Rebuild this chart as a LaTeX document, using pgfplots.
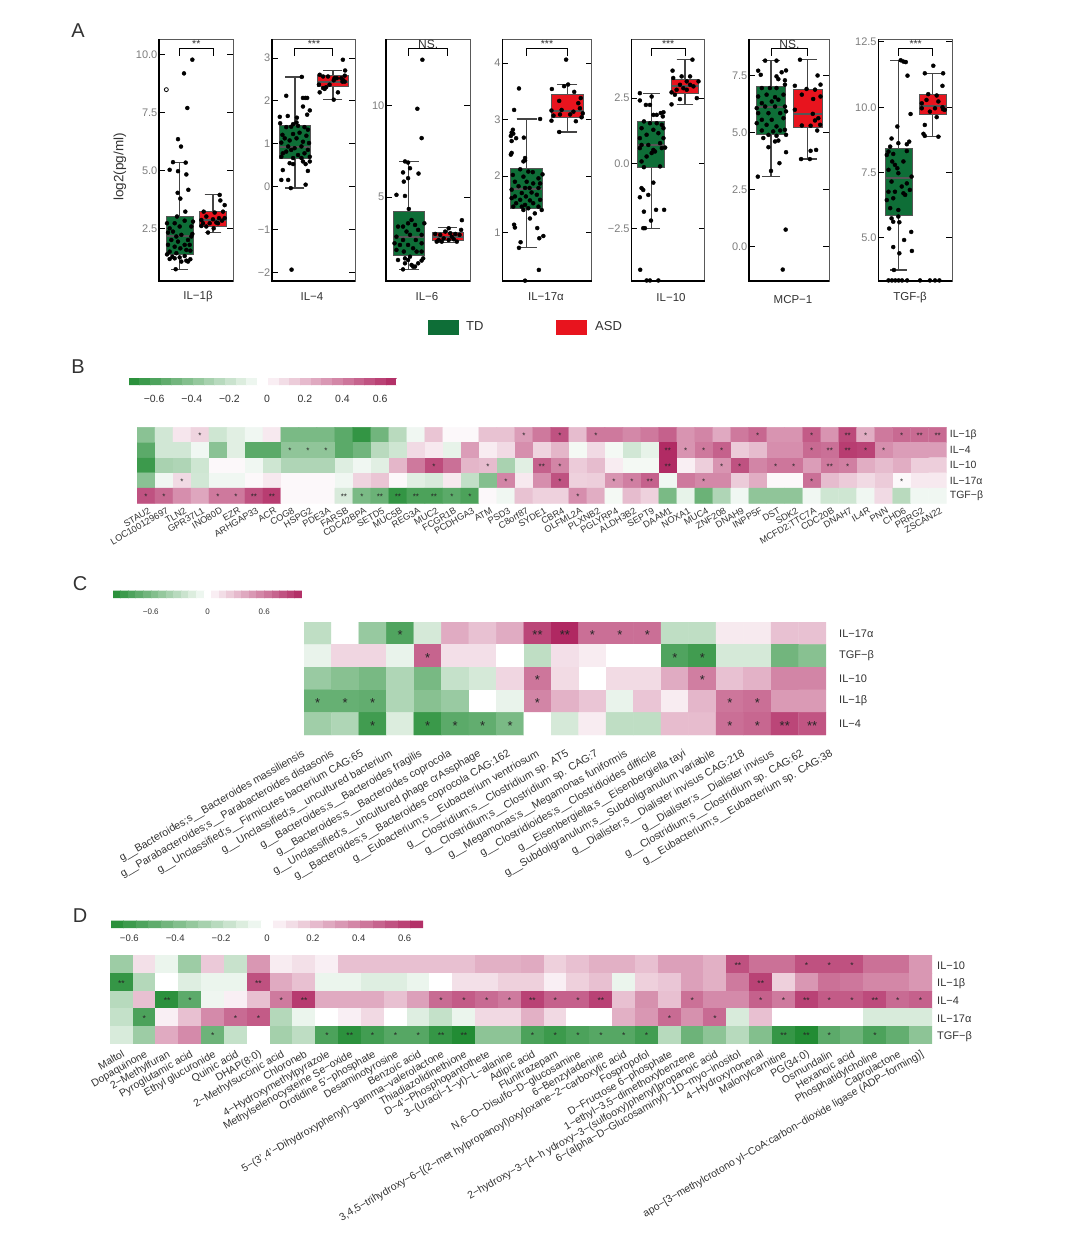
\documentclass[border=0pt]{standalone}
\usepackage{fontspec}
\setmainfont{Liberation Sans}
\usepackage{pgfplots}
\pgfplotsset{compat=1.18}
\usepgfplotslibrary{statistics}

\definecolor{tdgreen}{RGB}{14,110,55}
\definecolor{asdred}{RGB}{232,20,30}
\definecolor{boxdraw}{RGB}{85,85,85}
\definecolor{ticktext}{RGB}{125,125,125}
\definecolor{labeltext}{RGB}{50,50,50}

\newcommand\fs[1]{\fontsize{#1}{#1}\selectfont}

% bracket, stars and the heavier left/bottom frame of one box panel
\newcommand\finish[1]{%
  \draw[black,line width=1.3pt] (rel axis cs:0,1)--(rel axis cs:0,0)--(rel axis cs:1,0);
  \draw[black,line width=1pt] ({axis cs:1,0}|-{rel axis cs:0,.931})--({axis cs:1,0}|-{rel axis cs:0,.96})
    --({axis cs:2,0}|-{rel axis cs:0,.96})--({axis cs:2,0}|-{rel axis cs:0,.931});
  \node[font=\fs{10.5},inner sep=0,text=labeltext] at ({axis cs:1.5,0}|-{rel axis cs:0,.979}) {#1};
}
\newcommand\bx[7]{\addplot[boxplot prepared={draw direction=y,draw position=#1,lower whisker=#2,lower quartile=#3,median=#4,upper quartile=#5,upper whisker=#6},fill=#7,draw=boxdraw] coordinates {};}

\pgfplotsset{
  colormap={gp}{rgb255=(34,140,52) rgb255=(255,255,255) rgb255=(176,40,98)},
  boxplot/box extend=.8,
  boxplot/whisker extend=.5,
  boxplot/every box/.style={draw=boxdraw,line width=1pt},
  boxplot/every whisker/.style={draw=boxdraw!80!black,line width=1.2pt},
  boxplot/every median/.style={draw=boxdraw,line width=2pt},
  panel/.style={scale only axis,anchor=south west,height=242pt,
    xtick=\empty,axis line style={draw=gray!70!black,line width=.7pt},
    tick style={black,line width=1pt},major tick length=6pt,
    yticklabel style={font=\fs{11},text=ticktext,inner sep=1.5pt}},
  sigbr/.style={after end axis/.code={\finish{#1}}},
  pts/.style={only marks,mark=*,mark size=2pt,black,mark options={fill=black,draw=black}},
  heat/.style={scale only axis,anchor=south west,colormap name=gp,
    y dir=reverse,ymin=-.5,ymax=4.5,ytick={0,1,2,3,4},yticklabel pos=right,
    axis line style={draw=none},major tick length=0pt,
    xticklabel style={rotate=30,anchor=north east,inner sep=0pt,text=labeltext},
    yticklabel style={anchor=west,inner sep=0pt,text=labeltext}},
  stars/.style={only marks,mark=none,point meta=explicit symbolic,nodes near coords,
    nodes near coords align={anchor=center},
    every node near coord/.append style={inner sep=0pt,font=\fs{#1},text=black!85,yshift=-#1*0.14pt,anchor=center}},
  cbar/.style={colorbar horizontal,colorbar sampled},
}

\begin{document}
\begin{tikzpicture}
\useasboundingbox (0pt,0pt) rectangle (1080pt,-1242pt);

% ---- panel letters
\node[font=\fs{20},text=labeltext] at (78pt,-31pt) {A};
\node[font=\fs{20},text=labeltext] at (78pt,-367pt) {B};
\node[font=\fs{20},text=labeltext] at (80pt,-584pt) {C};
\node[font=\fs{20},text=labeltext] at (80pt,-916pt) {D};

% ---- A: IL-1b
\begin{axis}[panel,at={(159pt,-281pt)},width=74pt,xmin=.38,xmax=2.6,ymin=.244,ymax=10.66,
  ytick={2.5,5,7.5,10},yticklabels={2.5,5.0,7.5,10.0},sigbr={**}]
\bx{1}{.75}{1.39}{2.2}{3.02}{5.34}{tdgreen}
\bx{2}{2.33}{2.59}{2.87}{3.25}{3.95}{asdred}
\addplot[pts,mark options={fill=white,draw=black,line width=.8pt}] coordinates {(.6,8.48)};
\addplot[pts] coordinates {(1.13,9.18)(1.38,9.77)(1.23,7.69)(.95,6.35)(1.04,6.03)(.8,5.36)(1.18,5.34)(.7,5.03)(.95,4.97)(1.2,4.83)(1.26,4.17)(.94,4.04)(1.02,3.79)(1.17,3.23)(.92,3.02)
(.62,2.73)(.7,2.51)(.85,2.73)(1,2.59)(1.15,2.84)(1.35,2.59)(1.4,2.8)(1.38,2.27)(.8,2.37)(.65,2.33)(.9,2.16)(1.05,2.23)(1.25,2.01)(1.35,2.16)(.75,2.01)(.95,1.94)(1.15,1.8)(1.3,1.8)(.65,1.8)(.85,1.72)(1.02,1.65)(1.2,1.58)(.7,1.51)(.9,1.44)(1.32,1.55)(.62,1.39)(.78,1.29)(1,1.26)(1.15,1.32)(1.32,1.18)(.85,1.22)(.7,1.19)(1.2,1.12)(1.05,1.08)(.88,.75)(1.25,1.08)};
\addplot[pts] coordinates {(2.2,3.95)(2.22,3.71)(2.35,3.51)(1.72,3.23)(2.05,3.19)(2.3,3.23)(1.65,2.87)(1.8,3.02)(2,2.9)(2.18,2.95)(2.35,2.95)(1.7,2.73)(1.9,2.73)(2.1,2.76)(1.8,2.59)(1.65,2.61)(2.02,2.51)(1.85,2.33)(2.15,2.73)(2.27,2.84)};
\end{axis}

% ---- A: IL-4
\begin{axis}[panel,at={(272pt,-281pt)},width=83pt,xmin=.395,xmax=2.58,ymin=-2.194,ymax=3.443,
  ytick={-2,-1,0,1,2,3},yticklabels={−2,−1,0,1,2,3},sigbr={***}]
\bx{1}{-.03}{.65}{.93}{1.435}{2.56}{tdgreen}
\bx{2}{2.03}{2.33}{2.45}{2.586}{2.71}{asdred}
\addplot[pts] coordinates {(.91,-1.93)(1.18,2.56)(.77,2.12)(1.21,2.07)(1.27,2.07)(1.32,2.07)(1.21,1.87)(1.39,1.78)(1.32,1.68)(.6,1.63)(.81,1.65)(1.05,1.61)(1.04,1.5)(.95,1.46)
(.61,1.48)(.77,1.39)(.9,1.4)(1.08,1.42)(1.25,1.39)(1.34,1.33)(.67,1.21)(.95,1.23)(1.12,1.26)(1.3,1.19)(.73,1.13)(.86,1.08)(1.04,1.13)(1.21,1.05)(.64,1.03)(1.37,1.02)(.82,.94)(.99,.9)(1.17,.94)(1.34,.86)(.68,.78)(.77,.82)(.9,.86)(1.08,.74)(1.25,.78)(1.39,.7)(.64,.7)(.95,.67)(1.17,.67)(.86,.55)(.95,.53)(1.21,.59)(1.28,.53)(1.39,.59)(.68,.39)(1.34,.37)(.64,.16)(.82,.16)(1.28,.05)(.89,-.03)};
\addplot[pts] coordinates {(2.26,2.96)(2.32,2.71)(1.65,2.61)(1.74,2.57)(1.87,2.57)(2.04,2.53)(2.22,2.53)(2.31,2.59)(1.63,2.38)(1.74,2.3)(1.82,2.32)(1.91,2.38)(2.02,2.48)(2.1,2.53)(2.25,2.45)(2.31,2.45)(1.65,2.2)(2.13,2.2)(2.02,2.03)(1.78,2.28)(2.26,2.49)};
\end{axis}

% ---- A: IL-6
\begin{axis}[panel,at={(386pt,-281pt)},width=84pt,xmin=.41,xmax=2.58,ymin=.436,ymax=13.62,
  ytick={5,10},yticklabels={5,10},sigbr={\fs{12}NS.}]
\bx{1}{1.07}{1.84}{2.85}{4.22}{6.95}{tdgreen}
\bx{2}{2.53}{2.62}{2.85}{3.09}{3.35}{asdred}
\addplot[pts] coordinates {(1.35,12.49)(1.22,9.82)(1.33,8.22)(.9,6.95)(.98,6.89)(.85,6.35)(1.03,6.58)(1.25,6.29)(.98,6.04)(.87,5.85)(.68,5.13)(.9,5.07)(1,4.36)(1.4,3.58)(1.07,3.76)(.98,3.58)(.72,3.4)(.85,3.4)(1.16,3.49)(.94,3.13)(1.24,3.22)(1.03,2.95)(1.33,2.95)(.68,2.85)(.85,2.67)(1.18,2.67)(.63,2.49)(.77,2.4)(.98,2.4)(1.33,2.49)(1.11,2.22)(.68,2.13)(.87,2.04)(1.2,2.04)(1.33,2.04)(1.03,1.76)(.9,1.67)(.72,1.58)(.98,1.58)(1.37,1.67)(1.33,1.55)(1.24,1.4)(.9,1.4)(1.07,1.31)(1.16,1.22)(.85,1.07)(1.11,1.22)};
\addplot[pts] coordinates {(2.37,3.75)(2.35,3.22)(2.03,3.31)(1.68,3)(1.81,2.95)(1.94,3.13)(2.07,3.04)(2.2,3)(2.31,2.95)(1.77,2.67)(1.9,2.76)(2.03,2.67)(2.16,2.71)(2.24,2.58)(1.72,2.58)(1.85,2.58)(2.11,2.85)};
\end{axis}

% ---- A: IL-17a
\begin{axis}[panel,at={(502.3pt,-281pt)},width=89.4pt,xmin=.4,xmax=2.6,ymin=.144,ymax=4.425,
  ytick={1,2,3,4},yticklabels={1,2,3,4},sigbr={***}]
\bx{1}{.73}{1.425}{1.78}{2.13}{3.01}{tdgreen}
\bx{2}{2.78}{3.04}{3.16}{3.44}{3.62}{asdred}
\addplot[pts] coordinates {(.81,3.55)(.69,3.17)(1.33,3.01)(.66,2.82)(.63,2.77)(.61,2.71)(.67,2.75)(.74,2.67)(.63,2.62)(.93,2.68)(.96,2.32)(.92,2.26)(.63,2.41)(.61,2.38)(.96,2.28)
(.84,2.12)(1.04,2.08)(1.15,2.07)(1.39,2.03)(.66,2.02)(.92,1.99)(1.29,1.96)(.71,1.9)(1,1.9)(1.16,1.87)(1.33,1.87)(.8,1.82)(.96,1.79)(1.07,1.79)(1.29,1.79)(.63,1.76)(.88,1.7)(1.12,1.71)(.71,1.64)(.98,1.64)(1.25,1.67)(.63,1.61)(.84,1.58)(1.08,1.57)(1.33,1.58)(.74,1.52)(.96,1.49)(1.16,1.52)(.67,1.46)(.88,1.46)(1.04,1.43)(1.29,1.46)(.92,1.4)(1.2,1.34)(1.37,1.4)(1.08,1.25)(.69,1.14)(.71,1.09)(1.26,1.08)(1.41,.94)(1.31,.9)(.85,.83)(.81,.73)(1.3,.34)(.96,.15)};
\addplot[pts] coordinates {(1.97,4.06)(2.02,3.62)(1.92,3.59)(1.62,3.54)(2.17,3.49)(2.33,3.38)(1.8,3.33)(2.27,3.29)(1.61,3.16)(1.86,3.17)(2.31,3.2)(2.15,3.14)(2.38,3.11)(1.66,3.07)(1.82,3.09)(2.07,3.09)(2.35,3.04)(1.61,2.98)(2.21,2.97)(1.8,2.78)};
\end{axis}

% ---- A: IL-10
\begin{axis}[panel,at={(631.3pt,-281pt)},width=73.4pt,xmin=.406,xmax=2.584,ymin=-4.49,ymax=4.76,
  ytick={-2.5,0,2.5},yticklabels={−2.5,0.0,2.5},sigbr={***}]
\bx{1}{-2.47}{-.15}{.71}{1.62}{2.68}{tdgreen}
\bx{2}{2.26}{2.67}{2.95}{3.2}{3.97}{asdred}
\addplot[pts] coordinates {(.66,2.69)(1.01,2.56)(.66,2.41)(.84,2.24)(.96,2.24)(1.06,1.86)(1.16,1.86)(1.28,1.93)(1.36,1.96)(1.34,1.8)(.78,1.61)(.96,1.54)(1.16,1.54)(1.31,1.48)(.71,1.35)(1.06,1.29)(1.36,1.35)(.86,1.1)(1.21,1.16)(.66,.97)(1.36,.97)(.91,.71)(.71,.71)(1.26,.78)(1.41,.61)(.66,.59)(1.06,.52)(1.31,.59)(.86,.27)(1.01,.4)(1.11,.46)(.71,.08)(.78,-.14)(1.26,-.11)(1.06,-.73)(.71,-.94)(.76,-1.01)(.91,-1.2)(.66,-1.29)(.78,-1.84)(1.14,-1.77)(1.38,-1.77)(.99,-2.18)(.76,-2.47)(.81,-2.47)(.67,-4.06)(.86,-4.47)(.96,-4.47)(1.21,-4.47)};
\addplot[pts] coordinates {(2.22,3.97)(1.63,3.55)(1.65,3.27)(2.15,3.33)(1.9,3.33)(2.4,3.14)(2.05,3.14)(1.85,3.01)(2.25,2.95)(1.75,2.82)(2.05,2.82)(1.6,2.72)(1.7,2.63)(2.35,2.5)(1.85,2.46)(1.6,2.26)(2.15,3.01)(1.95,2.88)};
\end{axis}

% ---- A: MCP-1
\begin{axis}[panel,at={(749pt,-281pt)},width=80.3pt,xmin=.4,xmax=2.59,ymin=-1.49,ymax=9.108,
  ytick={0,2.5,5,7.5},yticklabels={0.0,2.5,5.0,7.5},sigbr={\fs{12}NS.}]
\bx{1}{3.08}{4.94}{6.15}{7.03}{8.16}{tdgreen}
\bx{2}{3.85}{5.25}{5.82}{6.9}{8.2}{asdred}
\addplot[pts] coordinates {(.84,8.16)(1.15,8.16)(.65,7.72)(1.29,7.65)(1.41,7.73)(.72,7.54)(1.15,7.47)(1.2,7.35)(1.38,7.3)(1.38,7.11)(.75,6.96)(.97,6.96)(1.15,6.96)(.65,6.59)(.88,6.67)(1.11,6.56)(1.34,6.67)(.75,6.3)(1.02,6.37)(1.2,6.45)(.61,6.08)(.84,6.15)(1.11,6.15)(1.38,6.15)(.65,5.86)(.93,5.86)(1.25,5.86)(1.41,5.94)(.75,5.57)(1.02,5.57)(1.34,5.64)(.61,5.42)(.88,5.35)(1.15,5.28)(1.38,5.13)(.75,5.1)(1.06,5.06)(1.25,5.1)(.79,4.77)(.93,4.91)(1.15,4.87)(1.41,4.91)(1.11,4.62)(1.2,4.66)(.93,4.37)(1.41,4.15)(1.23,3.67)(1,3.33)(.64,3.08)(1.4,.76)(1.32,-.99)};
\addplot[pts] coordinates {(1.79,8.2)(2.27,7.51)(1.65,7.06)(2.35,7.11)(1.97,6.92)(2.2,6.89)(1.84,6.67)(2.35,6.59)(2.15,6.48)(1.65,6.01)(2.14,5.83)(2.29,5.64)(2.2,5.54)(1.84,5.32)(2.08,5.31)(2.34,5.35)(2.26,5.1)(2.08,4.21)(2.23,4.25)(1.82,3.85)(2.06,3.85)};
\end{axis}

% ---- A: TGF-b
\begin{axis}[panel,at={(878.3pt,-281pt)},width=74pt,xmin=.4,xmax=2.58,ymin=3.338,ymax=12.615,
  ytick={5,7.5,10,12.5},yticklabels={5.0,7.5,10.0,12.5},sigbr={***}]
\bx{1}{3.76}{5.86}{7.3}{8.4}{11.8}{tdgreen}
\bx{2}{8.87}{9.72}{10.05}{10.49}{11.3}{asdred}
\addplot[pts] coordinates {(1.06,11.8)(1.21,11.73)(1.14,11.75)(1.26,11.21)(1.35,9.74)(.96,9.26)(.79,8.8)(1.31,8.68)(.99,8.62)(1.24,8.58)(.75,8.49)(.7,8.3)(1.24,8.32)(.84,8.21)(.65,8.17)(1.14,7.92)(.81,7.92)(.89,7.79)(.96,7.66)(.7,7.6)(.99,7.47)(1.38,7.34)(.79,7.15)(1.24,7.08)(1.09,6.96)(.7,6.76)(1.33,6.83)(.89,6.76)(1.14,6.7)(.65,6.44)(.84,6.51)(1.19,6.64)(.75,6.13)(.99,6.06)(.79,5.74)(.99,5.81)(.84,5.61)(1.02,5.59)(.72,5.35)(1.37,5.22)(1.16,4.91)(.84,4.64)(1.39,4.49)(1.02,4.4)(.86,3.76)
(.7,3.36)(.8,3.36)(.9,3.36)(1,3.36)(1.1,3.36)(1.25,3.36)(1.63,3.36)(1.92,3.36)(2.07,3.36)(2.2,3.36)};
\addplot[pts] coordinates {(2.02,11.59)(1.77,11.3)(2.31,11.3)(2.29,10.82)(1.87,10.5)(2.12,10.45)(1.68,10.15)(1.82,10.28)(2.17,10.22)(1.68,9.96)(2.07,9.96)(2.29,10)(2.36,9.9)(1.92,9.83)(2.12,9.62)(1.77,9.32)(1.73,8.98)(1.77,8.9)(2.17,8.87)(2.31,9.92)};
\end{axis}

% ---- A: labels and legend
\node[font=\fs{13.5},rotate=90,text=labeltext] at (120pt,-167pt) {log2(pg/ml)};
\foreach \xx/\yy/\tt in {198/297/IL−1β,312/297/IL−4,427/297/IL−6,546/297/IL−17α,671/298/IL−10,793/300/MCP−1,910/298/TGF-β}{
  \node[font=\fs{11.5},text=labeltext] at (\xx pt,-\yy pt) {\tt};}
\fill[tdgreen] (428pt,-320pt) rectangle (459pt,-335pt);
\node[font=\fs{13},anchor=west,inner sep=0,text=labeltext] at (466pt,-326pt) {TD};
\fill[asdred] (556pt,-320pt) rectangle (587pt,-335pt);
\node[font=\fs{13},anchor=west,inner sep=0,text=labeltext] at (595pt,-326pt) {ASD};

% ---- B
\begin{axis}[heat,at={(137pt,-503.3pt)},width=809.7pt,height=76pt,xmin=-.5,xmax=44.5,
  point meta min=-.735,point meta max=.688,
  xtick={0,...,44},
  xticklabel style={font=\fs{9.2},yshift=-4pt},
  xticklabels={STAU2,LOC100129697,TLN2,GPR37L1,INO80D,EZR,ARHGAP33,ACR,COG8,HSPG2,PDE3A,FARSB,CDC42BPA,SETD5,MUC5B,REG3A,MUC2,FCGR1B,PCDHGA3,ATM,PSD3,C8orf87,SYDE1,CBR4,OLFML2A,PLXNB2,PGLYRP4,ALDH3B2,SEPT9,DAAM1,NOXA1,MUC4,ZNF208,DNAH9,INPP5F,DST,SDK2,{MCFD2;TTC7A},CDC20B,DNAH7,IL4R,PNN,CHD6,PRRG2,ZSCAN22},
  yticklabels={IL−1β,IL−4,IL−10,IL−17α,TGF−β},
  yticklabel style={font=\fs{10.5},xshift=3pt},
  cbar,
  colorbar style={at={(parent axis.north west)},anchor=south west,xshift=-8.3pt,yshift=50.6pt,
    width=268pt,height=7.4pt,samples=26,
    xtick={-.6,-.4,-.2,0,.2,.4,.6},xticklabels={−0.6,−0.4,−0.2,0,0.2,0.4,0.6},
    xticklabel style={font=\fs{10.5},text=labeltext,yshift=-6pt},
    axis line style={draw=none},major tick length=0pt},
]
\addplot[matrix plot*,mesh/cols=45,point meta=explicit] table[x expr={\coordindex-45*floor((\coordindex+.5)/45)},y expr={floor((\coordindex+.5)/45)},meta=c,row sep=\\] {
c\\
-.4\\-.17\\.06\\.12\\-.18\\-.12\\-.07\\.05\\-.45\\-.45\\-.45\\-.55\\-.68\\-.48\\-.25\\-.07\\.17\\0\\0\\.18\\.18\\.3\\.42\\.55\\.2\\.42\\.42\\.37\\.42\\.5\\.33\\.38\\.26\\.42\\.48\\.33\\.33\\.52\\.33\\.58\\.25\\.42\\.47\\.47\\.47\\
-.55\\-.17\\-.17\\-.07\\-.4\\-.12\\-.55\\-.55\\-.38\\-.38\\-.38\\-.55\\-.48\\-.25\\-.18\\.1\\.05\\-.1\\.3\\.04\\.1\\.35\\.12\\.22\\-.06\\.1\\-.06\\-.17\\-.1\\.68\\.33\\.42\\.5\\.15\\.2\\.35\\.35\\.47\\.45\\.62\\.6\\.35\\.3\\.3\\.3\\
-.65\\-.3\\-.28\\-.18\\0\\0\\-.07\\-.18\\-.28\\-.28\\-.28\\-.13\\-.07\\-.12\\.22\\.42\\.57\\.45\\.22\\.2\\-.3\\-.12\\.5\\.38\\.15\\.2\\.04\\-.06\\-.06\\.68\\.03\\.14\\.33\\.55\\.38\\.43\\.43\\.3\\.42\\.4\\.25\\.2\\.25\\.14\\.14\\
-.4\\-.07\\.1\\-.17\\-.07\\-.07\\0\\.05\\0\\0\\0\\-.07\\.12\\.17\\0\\-.12\\-.15\\.05\\-.22\\-.42\\.38\\.05\\.35\\.55\\.13\\.14\\.33\\.4\\.5\\-.07\\.42\\.37\\.37\\.15\\.25\\0\\0\\.45\\.2\\.15\\.1\\.15\\0\\.05\\.05\\
.55\\.47\\.35\\.27\\.42\\.42\\.55\\.62\\0\\0\\0\\-.15\\-.45\\-.5\\-.68\\-.6\\-.6\\-.55\\-.6\\0\\-.07\\.18\\.13\\.13\\.35\\.25\\-.06\\.2\\.13\\-.45\\-.1\\-.5\\-.28\\-.07\\-.38\\-.38\\-.38\\-.07\\-.18\\-.18\\-.07\\.1\\-.25\\-.07\\-.07\\
};
\addplot[stars=8] table[meta=s,row sep=\\] {
x y s\\
3 0 *\\21 0 *\\23 0 *\\25 0 *\\34 0 *\\37 0 *\\39 0 **\\40 0 *\\42 0 *\\43 0 **\\44 0 **\\
8 1 *\\9 1 *\\10 1 *\\29 1 **\\30 1 *\\31 1 *\\32 1 *\\37 1 *\\38 1 **\\39 1 **\\40 1 *\\41 1 *\\
16 2 *\\19 2 *\\22 2 **\\23 2 *\\29 2 **\\32 2 *\\33 2 *\\35 2 *\\36 2 *\\38 2 **\\39 2 *\\
2 3 *\\20 3 *\\23 3 *\\26 3 *\\27 3 *\\28 3 **\\31 3 *\\37 3 *\\42 3 *\\
0 4 *\\1 4 *\\4 4 *\\5 4 *\\6 4 **\\7 4 **\\11 4 **\\12 4 *\\13 4 **\\14 4 **\\15 4 **\\16 4 **\\17 4 *\\18 4 *\\24 4 *\\
};
\end{axis}

% ---- C
\begin{axis}[heat,at={(304pt,-735pt)},width=530.2pt,height=113pt,xmin=-.5,xmax=18.8,
  point meta min=-1,point meta max=1,
  xtick={-.46,.61,1.68,2.74,3.81,4.88,5.95,7.02,8.08,9.15,10.22,11.29,12.36,13.42,14.49,15.56,16.63,17.7,18.76},
  xticklabel style={font=\fs{10.7},yshift=-10pt,xshift=-10pt},
  xticklabels={
    g\_\_Bacteroides;s\_\_Bacteroides massiliensis,
    g\_\_Parabacteroides;s\_\_Parabacteroides distasonis,
    g\_\_Unclassified;s\_\_Firmicutes bacterium CAG:65,
    g\_\_Unclassified;s\_\_uncultured bacterium,
    g\_\_Bacteroides;s\_\_Bacteroides fragilis,
    g\_\_Bacteroides;s\_\_Bacteroides coprocola,
    g\_\_Unclassified;s\_\_uncultured phage crAssphage,
    g\_\_Bacteroides;s\_\_Bacteroides coprocola CAG:162,
    g\_\_Eubacterium;s\_\_Eubacterium ventriosum,
    g\_\_Clostridium;s\_\_Clostridium sp. AT5,
    g\_\_Clostridium;s\_\_Clostridium sp. CAG:7,
    g\_\_Megamonas;s\_\_Megamonas funiformis,
    g\_\_Clostridioides;s\_\_Clostridioides difficile,
    g\_\_Eisenbergiella;s\_\_Eisenbergiella tayi,
    g\_\_Subdoligranulum;s\_\_Subdoligranulum variabile,
    g\_\_Dialister;s\_\_Dialister invisus CAG:218,
    g\_\_Dialister;s\_\_Dialister invisus,
    g\_\_Clostridium;s\_\_Clostridium sp. CAG:62,
    g\_\_Eubacterium;s\_\_Eubacterium sp. CAG:38},
  yticklabels={IL−17α,TGF−β,IL−10,IL−1β,IL−4},
  yticklabel style={font=\fs{11},xshift=4.8pt},
  cbar,
  colorbar style={at={(parent axis.north west)},anchor=south west,xshift=-191pt,yshift=32.5pt,
    width=189pt,height=7.5pt,samples=26,
    xtick={-.6,0,.6},xticklabels={−0.6,0,0.6},
    xticklabel style={font=\fs{8},text=labeltext,yshift=-7pt},
    axis line style={draw=none},major tick length=0pt},
]
\addplot[matrix plot*,mesh/cols=19,point meta=explicit] table[x expr={\coordindex-19*floor((\coordindex+.5)/19)},y expr={floor((\coordindex+.5)/19)},meta=c,row sep=\\] {
c\\
-.29\\0\\-.47\\-.79\\-.19\\.39\\.29\\.39\\.86\\1\\.67\\.67\\.67\\-.29\\-.29\\.1\\.1\\.29\\.29\\
-.1\\.19\\.19\\-.1\\.72\\.15\\.15\\0\\-.29\\.15\\.09\\0\\0\\-.79\\-.86\\-.19\\-.19\\-.64\\-.54\\
-.46\\-.54\\-.61\\-.36\\-.61\\-.26\\-.19\\.19\\.64\\.17\\0\\.17\\.17\\.39\\.6\\.29\\.36\\.57\\.57\\
-.69\\-.69\\-.71\\-.36\\-.54\\-.46\\0\\-.1\\.57\\.36\\.27\\-.1\\.27\\.09\\.34\\.64\\.67\\.47\\.47\\
-.43\\-.36\\-.86\\-.16\\-.89\\-.74\\-.71\\-.6\\0\\-.19\\.09\\-.29\\-.29\\.31\\.31\\.67\\.71\\.86\\.79\\
};
\addplot[stars=13] table[meta=s,row sep=\\] {
x y s\\
3 0 *\\8 0 **\\9 0 **\\10 0 *\\11 0 *\\12 0 *\\
4 1 *\\13 1 *\\14 1 *\\
8 2 *\\14 2 *\\
0 3 *\\1 3 *\\2 3 *\\8 3 *\\15 3 *\\16 3 *\\
2 4 *\\4 4 *\\5 4 *\\6 4 *\\7 4 *\\15 4 *\\16 4 *\\17 4 **\\18 4 **\\
};
\end{axis}

% ---- D
\begin{axis}[heat,at={(110pt,-1043.5pt)},width=822pt,height=88pt,xmin=-.5,xmax=35.5,
  point meta min=-.68,point meta max=.68,
  xtick={0,...,35},
  xticklabel style={font=\fs{10.5},yshift=-5pt,xshift=-3pt},
  xticklabels={Maltol,Dopaquinone,2−Methylfuran,Pyroglutamic acid,Ethyl glucuronide,Quinic acid,DHAP(8:0),2−Methylsuccinic acid,Chloroneb,4−Hydroxymethylpyrazole,Methylselenocysteine Se−oxide,{Orotidine 5'−phosphate},Desaminotyrosine,Benzoic acid,{5−(3',4'−Dihydroxyphenyl)−gamma−valerolactone},Thiadiazolidinethione,{D−4'−Phosphopantothete},3−(Uracil−1−yl)−L−alanine,Adipic acid,Flunitrazepam,{N,6−O−Disulfo−D−glucosamine},6−Benzyladenine,{3,4,5−trihydroxy−6−[(2−met hylpropanoyl)oxy]oxane−2−carboxylic acid},Fospropofol,D−Fructose 6−phosphate,{1−ethyl−3,5−dimethoxybenzene},{2−hydroxy−3−[4−h ydroxy−3−(sulfooxy)phenyl]propanoic acid},{6−(alpha−D−Glucosaminyl)−1D−myo−inositol},4−Hydroxynonenal,Malonylcarnitine,PG(34:0),Osmundalin,Hexanoic acid,Phosphatidylcholine,Caprolactone,{apo−[3−methylcrotono yl−CoA:carbon−dioxide ligase (ADP−forming)]}},
  yticklabels={IL−10,IL−1β,IL−4,IL−17α,TGF−β},
  yticklabel style={font=\fs{11},xshift=5pt,yshift=-1.5pt},
  cbar,
  colorbar style={at={(parent axis.north west)},anchor=south west,xshift=1pt,yshift=36pt,
    width=312pt,height=7.4pt,samples=26,
    xtick={-.6,-.4,-.2,0,.2,.4,.6},xticklabels={−0.6,−0.4,−0.2,0,0.2,0.4,0.6},
    xticklabel style={font=\fs{9.5},text=labeltext,yshift=-3pt},
    axis line style={draw=none},major tick length=0pt},
]
\addplot[matrix plot*,mesh/cols=36,point meta=explicit] table[x expr={\coordindex-36*floor((\coordindex+.5)/36)},y expr={floor((\coordindex+.5)/36)},meta=c,row sep=\\] {
c\\
-.3\\.1\\-.06\\-.3\\.17\\-.17\\.33\\.06\\.1\\.05\\.2\\.2\\.2\\.2\\.2\\.2\\.25\\.25\\.27\\.15\\.2\\.25\\.25\\.2\\.3\\.3\\.25\\.55\\.45\\.45\\.55\\.55\\.55\\.45\\.45\\.33\\
-.62\\-.23\\0\\-.1\\-.06\\-.06\\.55\\.27\\.2\\-.06\\-.06\\-.1\\-.1\\-.06\\0\\.1\\.1\\.15\\.15\\.05\\.15\\.2\\-.06\\.15\\.18\\.3\\.25\\.42\\.6\\.15\\.33\\.45\\.43\\.38\\.38\\.33\\
-.22\\.2\\-.65\\-.5\\-.05\\.05\\.2\\.42\\.62\\.27\\.27\\.27\\.2\\.3\\.47\\.52\\.47\\.42\\.6\\.5\\.5\\.6\\.2\\.35\\.2\\.45\\.37\\.37\\.5\\.42\\.6\\.52\\.52\\.57\\.47\\.5\\
-.18\\-.55\\.05\\.2\\.37\\.47\\.52\\-.23\\-.06\\0\\.05\\.12\\0\\-.1\\-.18\\-.06\\.12\\.12\\.25\\.12\\0\\0\\.25\\.33\\.47\\.35\\.47\\-.12\\.2\\0\\0\\0\\0\\-.12\\-.12\\-.12\\
-.12\\-.3\\.27\\.37\\-.45\\-.18\\0\\-.28\\-.2\\-.55\\-.65\\-.58\\-.52\\-.52\\-.62\\-.68\\-.35\\-.35\\-.55\\-.6\\-.55\\-.52\\-.52\\-.58\\-.22\\-.45\\-.35\\-.22\\-.38\\-.62\\-.68\\-.5\\-.45\\-.55\\-.48\\-.35\\
};
\addplot[stars=8.5] table[meta=s,row sep=\\] {
x y s\\
27 0 **\\30 0 *\\31 0 *\\32 0 *\\
0 1 **\\6 1 **\\28 1 **\\
2 2 **\\3 2 *\\7 2 *\\8 2 **\\14 2 *\\15 2 *\\16 2 *\\17 2 *\\18 2 **\\19 2 *\\20 2 *\\21 2 **\\25 2 *\\28 2 *\\29 2 *\\30 2 **\\31 2 *\\32 2 *\\33 2 **\\34 2 *\\35 2 *\\
1 3 *\\5 3 *\\6 3 *\\24 3 *\\26 3 *\\
4 4 *\\9 4 *\\10 4 **\\11 4 *\\12 4 *\\13 4 *\\14 4 **\\15 4 **\\18 4 *\\19 4 *\\20 4 *\\21 4 *\\22 4 *\\23 4 *\\29 4 **\\30 4 **\\31 4 *\\33 4 *\\
};
\end{axis}
\end{tikzpicture}
\end{document}
